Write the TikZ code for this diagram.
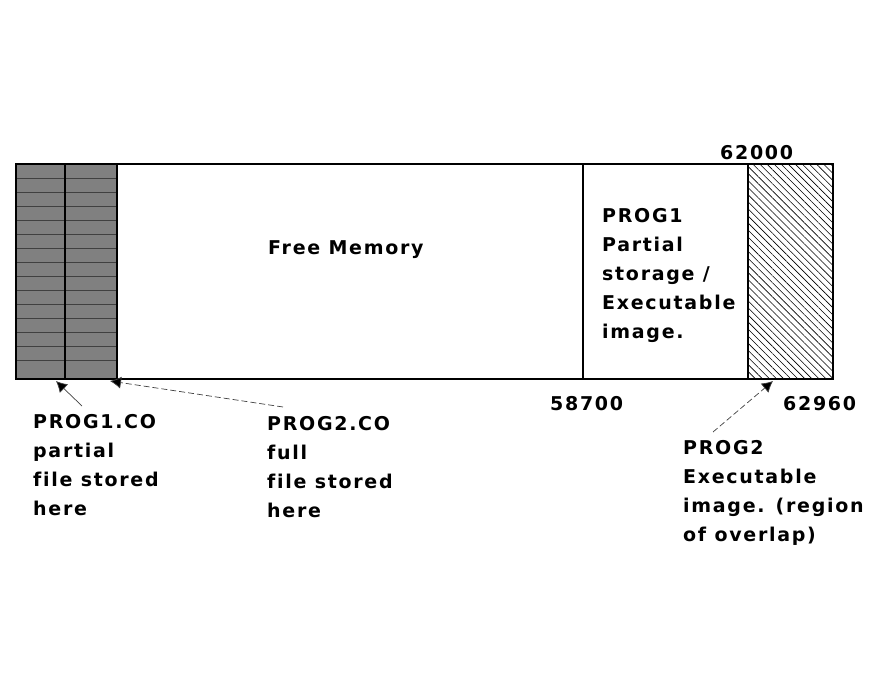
\documentclass[tikz,border=0pt]{standalone}
\usepackage{fontspec}
\setmainfont[LetterSpace=9,Ligatures=NoCommon,BoldFont={DejaVu Sans Bold}]{DejaVu Sans}
\usetikzlibrary{patterns.meta,arrows.meta}
\begin{document}
\begin{tikzpicture}[x=1pt,y=-1pt,
  lbl/.style={anchor=north west,inner sep=0pt,align=left,font=\fontsize{19}{29}\selectfont\bfseries},
  box/.style={draw=black,line width=1.4pt},
  pointer/.style={draw=black!75,line width=0.7pt,-{Latex[length=11pt,width=12pt,fill=black]}},
  dashptr/.style={pointer,dash pattern=on 6pt off 3pt}]
\useasboundingbox (0,0) rectangle (894,677);
% shaded region (file storage at low memory)
\fill[black!50] (16,164) rectangle (117,379);
\foreach \yy in {178,192,...,372}{\draw[black!75,line width=0.5pt] (16,\yy) -- (117,\yy);}
% hatched region (overlap)
\fill[pattern={Lines[angle=-45,distance=5pt,line width=0.6pt]}] (748,164) rectangle (833,379);
% outer rectangle and dividers
\draw[box] (16,164) rectangle (833,379);
\draw[line width=1.8pt] (65,164) -- (65,379);
\draw[line width=1.4pt] (117,164) -- (117,379);
\draw[line width=1.2pt] (583,164) -- (583,379);
\draw[line width=1.4pt] (748,164) -- (748,379);
% texts
\node[lbl] (free) at (268,240) {Free Memory};
\node[lbl] (p1img) at (602,208) {PROG1\\Partial\\storage /\\Executable\\image.};
\node[lbl] (a62000) at (720,145) {62000};
\node[lbl] (a58700) at (550,396) {58700};
\node[lbl] (a62960) at (783,396) {62960};
\node[lbl] (p1co) at (33,414) {PROG1.CO\\partial\\file stored\\here};
\node[lbl] (p2co) at (267,416) {PROG2.CO\\full\\file stored\\here};
\node[lbl] (p2img) at (683,440) {PROG2\\Executable\\image. (region\\of overlap)};
% pointer ends
\coordinate (t1) at (56,381);
\coordinate (t2) at (110,381);
\coordinate (t3) at (773,381);
\coordinate (s1) at (82,406);
\coordinate (s2) at (283,407);
\coordinate (s3) at (713,432);
\draw[pointer] (s1) -- (t1);
\draw[dashptr] (s2) -- (t2);
\draw[dashptr] (s3) -- (t3);
\end{tikzpicture}
\end{document}
